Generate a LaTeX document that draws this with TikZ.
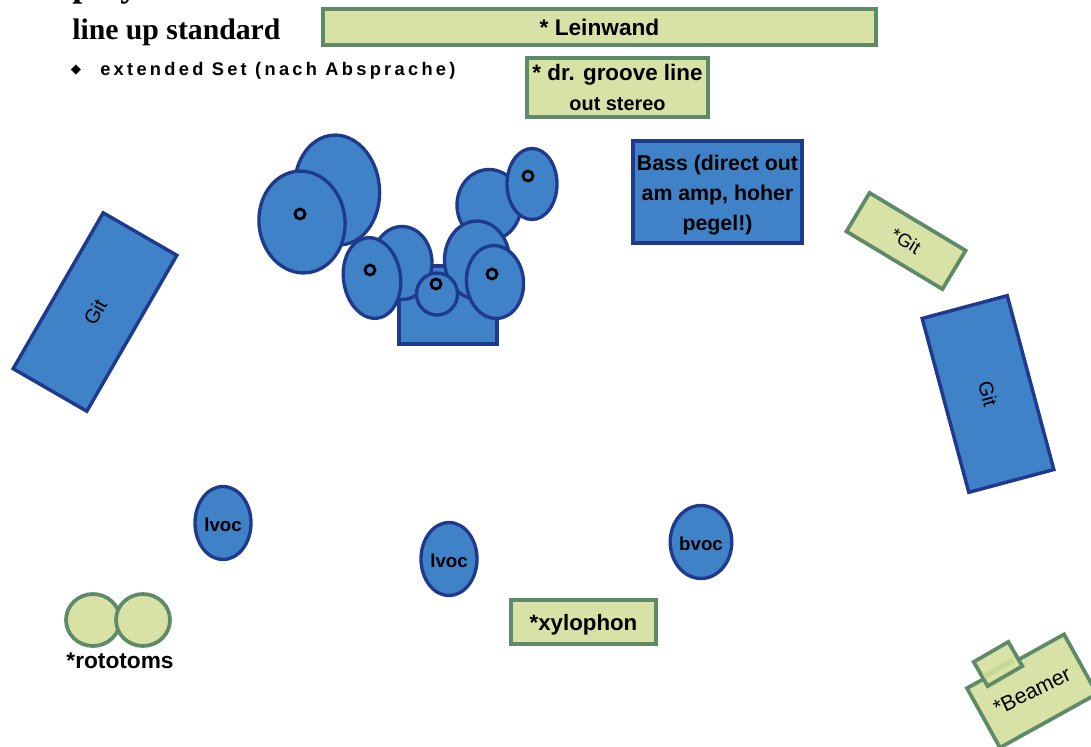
\documentclass[tikz,border=0pt]{standalone}
\usepackage{fontspec}
\setmainfont{Liberation Sans}
\newfontfamily\serifhead{Liberation Serif}
\newfontfamily\spacedfont[LetterSpace=18]{Liberation Sans}
\newfontfamily\symfont{DejaVu Sans}
\usetikzlibrary{shapes.geometric}
\definecolor{bluefill}{HTML}{4082C8}
\definecolor{blueline}{HTML}{1F3A8C}
\definecolor{greenfill}{HTML}{D8E2A6}
\definecolor{greenline}{HTML}{5F8A68}
\definecolor{lensband}{HTML}{C6D897}
\tikzset{
  bluebox/.style={rectangle, draw=blueline, fill=bluefill, line width=2.6pt, inner sep=0pt, font=\fontsize{15}{18}\selectfont, align=center},
  greenbox/.style={rectangle, draw=greenline, fill=greenfill, line width=2.8pt, inner sep=0pt, font=\fontsize{17}{22}\selectfont\bfseries, align=center},
  blueoval/.style={ellipse, draw=blueline, fill=bluefill, line width=2.5pt, inner sep=0pt, font=\fontsize{14}{16}\selectfont\bfseries},
  greenoval/.style={ellipse, draw=greenline, fill=greenfill, line width=2.8pt, inner sep=0pt},
  mic/.style={circle, draw=black, fill=bluefill, line width=2.1pt, minimum size=7.5pt, inner sep=0pt},
}
\begin{document}
\begin{tikzpicture}[x=0.75pt,y=-0.75pt]
\clip (0,0) rectangle (1091,746);
\fill[white] (0,0) rectangle (1091,746);
% headings
\node[anchor=base west, inner sep=0pt, font=\serifhead\bfseries\fontsize{27}{27}\selectfont] (play) at (72,-3) {play};
\node[anchor=base west, inner sep=0pt, font=\serifhead\bfseries\fontsize{22.3}{24}\selectfont] (lineup) at (72,39) {line up standard};
\node[anchor=center, inner sep=0pt, font=\symfont\fontsize{10}{12}\selectfont] (bullet) at (76,70) {◆};
\node[anchor=base west, inner sep=0pt, font=\spacedfont\bfseries\fontsize{13.7}{14}\selectfont] (extset) at (100,75) {extended Set (nach Absprache)};
% green boxes
\node[greenbox, minimum width=553*0.75pt, minimum height=36*0.75pt] (leinwand) at (599.5,27) {* Leinwand};
\node[greenbox, minimum width=181*0.75pt, minimum height=59*0.75pt] (groove) at (617.5,87.5) {\fontsize{16.8}{22.5}\selectfont * dr. groove line\\\fontsize{14.9}{22.5}\selectfont out stereo};
\node[greenbox, minimum width=145*0.75pt, minimum height=44*0.75pt, font=\fontsize{16.7}{20}\selectfont\bfseries] (xylo) at (583.5,622) {\rule{0pt}{16.5pt}*xylophon};
\node[greenbox, rotate=-31, minimum width=112*0.75pt, minimum height=45*0.75pt, font=\fontsize{14}{16}\selectfont] (gitsmall) at (906,241) {*Git};
% blue boxes
\node[bluebox, minimum width=169*0.75pt, minimum height=102*0.75pt, font=\fontsize{16}{22.5}\selectfont\bfseries] (bass) at (717.5,192) {\rule{0pt}{16pt}Bass (direct out\\am amp, hoher\\pegel!)};
\node[bluebox, rotate=60, minimum width=180*0.75pt, minimum height=85*0.75pt] (gitleft) at (95,312) {Git};
\node[bluebox, rotate=-75, minimum width=180*0.75pt, minimum height=88*0.75pt] (gitright) at (988,394) {Git};
% drum kit
\node[blueoval, rotate=5, minimum width=85*0.75pt, minimum height=110*0.75pt] (kickback) at (337,190) {};
\node[blueoval, rotate=6, minimum width=86*0.75pt, minimum height=102*0.75pt] (floor) at (302,222) {};
\node[blueoval, minimum width=64*0.75pt, minimum height=71*0.75pt] (topback) at (489,205) {};
\node[blueoval, minimum width=50*0.75pt, minimum height=71*0.75pt] (topfront) at (532,184) {};
\node[rectangle, draw=blueline, fill=bluefill, line width=2.6pt, minimum width=98*0.75pt, minimum height=78*0.75pt, inner sep=0pt] (kick) at (448,305) {};
\node[blueoval, minimum width=60*0.75pt, minimum height=73*0.75pt] (backleft) at (402,263) {};
\node[blueoval, rotate=8, minimum width=57*0.75pt, minimum height=81*0.75pt] (frontleft) at (372,278) {};
\node[blueoval, minimum width=65*0.75pt, minimum height=78*0.75pt] (backright) at (477,260) {};
\node[blueoval, minimum width=41*0.75pt, minimum height=42*0.75pt] (snare) at (437,294) {};
\node[blueoval, rotate=5, minimum width=57*0.75pt, minimum height=73*0.75pt] (frontright) at (495,282) {};
\node[mic] (m1) at (300,214) {};
\node[mic] (m2) at (370,270) {};
\node[mic] (m3) at (436,284) {};
\node[mic] (m4) at (492,274) {};
\node[mic] (m5) at (528,176) {};
% vocals
\node[blueoval, minimum width=56*0.75pt, minimum height=73*0.75pt] (lvoca) at (223,523) {\rule{0pt}{13pt}lvoc};
\node[blueoval, minimum width=56*0.75pt, minimum height=73*0.75pt] (lvocb) at (449,559) {\rule{0pt}{13pt}lvoc};
\node[blueoval, minimum width=55*0.75pt, minimum height=73*0.75pt] (bvoc) at (701,542) {\rule{0pt}{13pt}bvoc};
% rototoms
\node[greenoval, minimum width=54*0.75pt, minimum height=52*0.75pt] (rotoa) at (93,620) {};
\node[greenoval, minimum width=54*0.75pt, minimum height=52*0.75pt] (rotob) at (143,620) {};
\node[inner sep=0pt, font=\bfseries\fontsize{17}{18}\selectfont] (rotolab) at (120,661) {*rototoms};
% beamer
\node[greenbox, rotate=29, minimum width=111*0.75pt, minimum height=68*0.75pt] (beamer) at (1032,691) {};
\node[inner sep=0pt, rotate=26, font=\fontsize{16}{18}\selectfont] (beamerlab) at (1032,691) {*Beamer};
\node[greenbox, rotate=30, minimum width=40*0.75pt, minimum height=28*0.75pt] (lens) at (998,664) {};
\draw[line width=4pt, color=lensband] (984,676.5) -- (1013,660.5);
\end{tikzpicture}
\end{document}
